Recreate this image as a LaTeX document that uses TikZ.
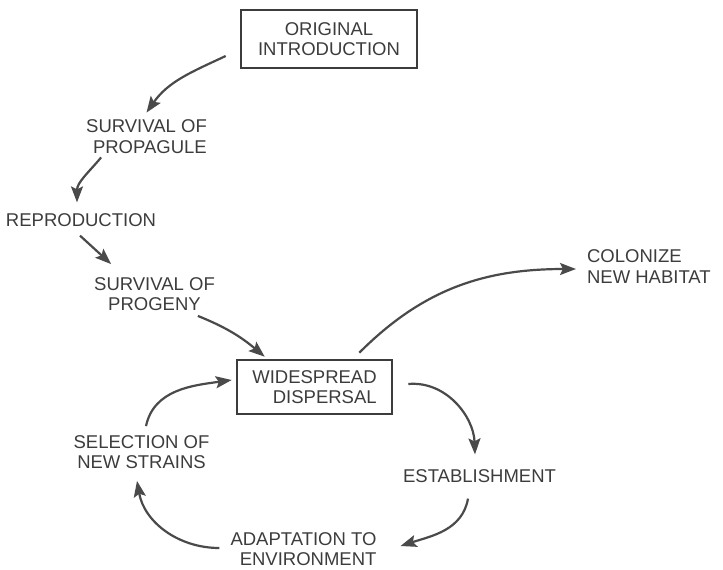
\documentclass[tikz,border=0pt]{standalone}
\usepackage{fontspec}
\setmainfont{Liberation Sans}
\usepackage{tikz}
\usetikzlibrary{arrows.meta}

\definecolor{ink}{HTML}{3C3C3C}
\definecolor{pen}{HTML}{4A4A4A}

\begin{document}
\begin{tikzpicture}[x=0.5pt, y=0.5pt,
                    every node/.style={text=ink, font=\fontsize{9.25}{10.3}\selectfont},
                    box/.style={draw=ink, line width=1.3pt, inner sep=0pt},
                    flow/.style={draw=pen, line width=1.1pt, -{Stealth[length=8pt, width=6pt, inset=1.5pt]}}]
                    \useasboundingbox (0,0) rectangle (723,-569);
                    \node (orig) at (329,-39) [box, minimum width=88pt, minimum height=29pt, align=center] {ORIGINAL\\INTRODUCTION};
                    \node (propagule) at (146.5,-136.5) [align=right] {SURVIVAL OF\\PROPAGULE};
                    \node (reproduction) at (81,-220) {REPRODUCTION};
                    \node (progeny) at (154.5,-294) [align=center] {SURVIVAL OF\\PROGENY};
                    \node (widespread) at (314.5,-387) [box, minimum width=77.5pt, minimum height=27pt, align=right] {WIDESPREAD\\DISPERSAL};
                    \node (colonize) at (580,-266.5) [anchor=west, align=left] {COLONIZE\\NEW HABITAT};
                    \node (establishment) at (479.5,-476) {ESTABLISHMENT};
                    \node (adaptation) at (303.5,-549) [align=right] {ADAPTATION TO\\ENVIRONMENT};
                    \node (selection) at (141.5,-452) [align=center] {SELECTION OF\\NEW STRAINS};
                    \draw[flow] ([shift={(-14,-17)}]orig.west) to[out=205, in=55] (propagule.north);
                    \draw[flow] ([shift={(22,3)}]propagule.south west) to[out=230, in=90] ([shift={(-4,4)}]reproduction.north);
                    \draw[flow] ([shift={(-1,-2)}]reproduction.south) -- ([shift={(24,6)}]progeny.north west);
                    \draw[flow] ([shift={(-24,2)}]progeny.south east) to[out=-22, in=140] ([shift={(29,2)}]widespread.north west);
                    \draw[flow] ([shift={(-34,6)}]widespread.north east) to[out=45, in=180] ([shift={(-4,-2.5)}]colonize.west);
                    \draw[flow] ([shift={(15,3)}]widespread.east) to[out=5, in=92] ([shift={(-4.5,8)}]establishment.north);
                    \draw[flow] ([shift={(-11.5,-9)}]establishment.south) to[out=-100, in=18] ([shift={(17,3)}]adaptation.east);
                    \draw[flow] ([shift={(-4,1)}]adaptation.west) to[out=180, in=-80] ([shift={(-4.5,-5)}]selection.south);
                    \draw[flow] ([shift={(4.5,2)}]selection.north) to[out=78, in=188] ([shift={(-4,7)}]widespread.west);
                \end{tikzpicture}
\end{document}
